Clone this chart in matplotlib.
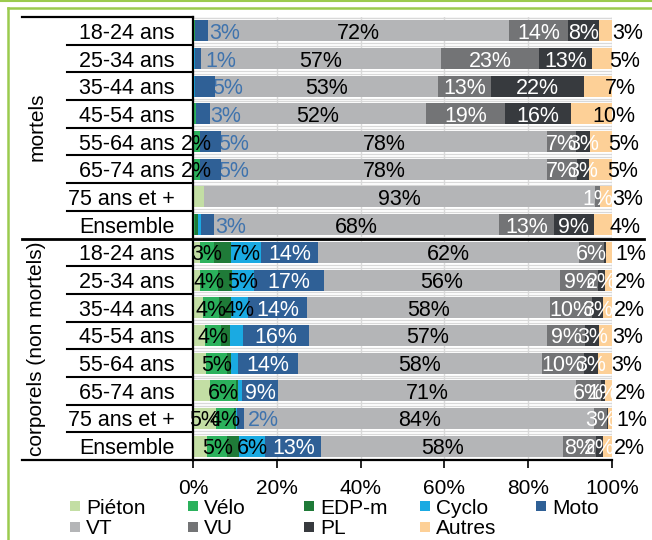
import matplotlib
matplotlib.use("Agg")
import matplotlib.pyplot as plt
from matplotlib.lines import Line2D
from matplotlib.patches import Rectangle
import numpy as np

plt.rcParams['font.family'] = ['Liberation Sans', 'DejaVu Sans']

# Row labels (top to bottom), two groups of eight rows
age_groups = ["18-24 ans", "25-34 ans", "35-44 ans", "45-54 ans",
              "55-64 ans", "65-74 ans", "75 ans et +", "Ensemble"]
groups = ["mortels", "corporels (non mortels)"]
categories = ["Piéton", "Vélo", "EDP-m", "Cyclo", "Moto", "VT", "VU", "PL", "Autres"]

# Shares (%) : eight "mortels" rows followed by eight "corporels" rows
pieton = [0, 0, 0, 0, 0, 0, 2.6, 0,
          1.6, 1.6, 2.4, 2.8, 3.2, 4.0, 5.4, 3.4]
velo = [0.5, 0, 0, 0.6, 1.6, 1.6, 0, 0.5,
        3.4, 4.4, 3.8, 4.0, 5.0, 6.3, 4.4, 4.8]
edpm = [0, 0, 0, 0, 0, 0, 0, 0.8,
        4.0, 3.2, 2.8, 2.0, 0.8, 0.4, 0.4, 2.7]
cyclo = [0, 0.5, 0.4, 0, 0, 0, 0, 0.7,
         7.2, 5.4, 4.1, 3.2, 1.7, 1.0, 0.4, 6.4]
moto = [3.0, 1.4, 4.8, 3.4, 5.2, 5.2, 0, 3.0,
        13.7, 16.6, 14.1, 15.7, 14.3, 8.6, 1.6, 13.3]
vt = [72.0, 57.3, 53.3, 51.6, 77.7, 77.6, 93.3, 68.1,
      62.2, 56.4, 58.1, 56.8, 58.2, 71.1, 83.6, 57.8]
vu = [13.9, 23.4, 12.7, 18.9, 7.0, 7.2, 1.2, 13.1,
      6.0, 9.1, 9.9, 9.1, 10.2, 6.0, 3.0, 7.8]
pl = [7.6, 12.6, 22.0, 15.6, 3.3, 3.0, 0, 9.4,
      0.5, 1.6, 2.6, 3.4, 3.2, 0.9, 0.2, 1.6]
autres = [3.0, 4.8, 6.8, 9.9, 5.2, 5.4, 2.9, 4.4,
          1.4, 1.7, 2.2, 3.0, 3.4, 1.7, 1.0, 2.2]

series = [pieton, velo, edpm, cyclo, moto, vt, vu, pl, autres]
colors = ["#C3DEA4", "#2BB15C", "#1F7A38", "#1AAAE2", "#2F6096",
          "#B4B5B7", "#737476", "#373A3E", "#FDD097"]
xticks = [0, 20, 40, 60, 80, 100]
xticklabels = ["0%", "20%", "40%", "60%", "80%", "100%"]

# smallest value that gets a data label, per category (None: never labelled)
label_min = {"Piéton": 5, "Vélo": 1, "EDP-m": None, "Cyclo": 4, "Moto": 1,
             "VT": 1, "VU": 1, "PL": 0.8, "Autres": 0.5}
label_color = {"Piéton": "black", "Vélo": "black", "EDP-m": "black",
               "Cyclo": "black", "Moto": "white", "VT": "black",
               "VU": "white", "PL": "white", "Autres": "black"}
moto_out_color = "#3F73AD"
frame_green = "#9BCB4E"
grid_gray = "#D9D9D9"

W, H = 652, 540
fig = plt.figure(figsize=(W / 100, H / 100), dpi=100)
ax = fig.add_axes([193 / W, 80 / H, 419 / W, 443 / H])

rows = age_groups * len(groups)
n = len(rows)
y = np.arange(n)
left = np.zeros(n)
FS = 15.5

for name, vals, col in zip(categories, series, colors):
    vals = np.asarray(vals, dtype=float)
    z = 2.6 if name == "Moto" else 2
    ax.barh(y, vals, left=left, height=0.76, color=col, linewidth=0, zorder=z)
    lim = label_min[name]
    if lim is not None:
        for yi, v, l0 in zip(y, vals, left):
            if v < lim:
                continue
            txt = f"{int(v + 0.5)}%"
            centre = l0 + v / 2
            if name == "Autres":
                ax.text(centre + 5.3, yi, txt, ha="center", va="center_baseline",
                        fontsize=FS, color="black", zorder=5, clip_on=False)
            elif name == "Moto" and v < 8:
                ax.text(centre + 5.5, yi, txt, ha="center", va="center_baseline",
                        fontsize=FS, color=moto_out_color, zorder=2.5)
            else:
                ax.text(centre, yi, txt, ha="center", va="center_baseline",
                        fontsize=FS, color=label_color[name], zorder=5,
                        clip_on=False)
    left += vals

ax.set_xlim(0, 100)
ax.set_ylim(n - 0.5, -0.5)

# light grid: vertical lines every 20 %, doubled thin lines between rows
for gx in xticks[1:]:
    ax.axvline(gx, color=grid_gray, lw=1.0, zorder=1)
for b in np.arange(-0.5, n, 1.0):
    ax.axhline(b - 0.05, color=grid_gray, lw=0.9, zorder=1)
    ax.axhline(b + 0.05, color=grid_gray, lw=0.9, zorder=1)

ax.set_xticks(xticks)
ax.set_xticklabels(xticklabels)
ax.tick_params(axis="x", direction="out", length=6, width=1.2, pad=8,
               labelsize=15, colors="black")
ax.set_yticks(y)
ax.set_yticklabels(rows)
ax.tick_params(axis="y", length=0, pad=13, labelsize=15.5)

for s in ("top", "right"):
    ax.spines[s].set_visible(False)
for s in ("left", "bottom"):
    ax.spines[s].set_linewidth(1.6)
    ax.spines[s].set_color("black")

# table-like rules on the label side
ytr = ax.get_yaxis_transform()
x_outer = -171 / 419
x_inner = -126 / 419
x_right = 451 / 419
for b in np.arange(0.5, n - 0.5, 1.0):
    if b == len(age_groups) - 0.5:
        ax.plot([x_outer, x_right], [b, b], transform=ytr, color="black",
                lw=2.0, clip_on=False, zorder=6)
    else:
        ax.plot([x_inner, 0], [b, b], transform=ytr, color="black",
                lw=1.5, clip_on=False, zorder=6)
for b in (-0.5, n - 0.5):
    ax.plot([x_outer, 0], [b, b], transform=ytr, color="black",
            lw=1.6, clip_on=False, zorder=6)

# group titles
fig.text(37 / W, 1 - 127 / H, groups[0], rotation=90, ha="center",
         va="center", fontsize=15)
fig.text(37 / W, 1 - 349 / H, groups[1], rotation=90, ha="center",
         va="center", fontsize=15)

# legend, two rows of five evenly spaced entries
leg_x = [70, 188, 304, 420, 536]
leg_y = [506, 527]
for i, (name, col) in enumerate(zip(categories, colors)):
    r, c = divmod(i, 5)
    x0, yc = leg_x[c], leg_y[r]
    fig.add_artist(Rectangle((x0 / W, 1 - (yc + 5) / H), 10 / W, 10 / H,
                             transform=fig.transFigure, color=col, lw=0))
    fig.text((x0 + 16) / W, 1 - yc / H, name, ha="left",
             va="center_baseline", fontsize=15)

# green page frame
fig.add_artist(Line2D([0, 1], [1 - 1 / H, 1 - 1 / H], color=frame_green,
                      lw=1.5, transform=fig.transFigure))
fig.add_artist(Line2D([8 / W, 1], [1 - 8 / H, 1 - 8 / H], color=frame_green,
                      lw=1.8, transform=fig.transFigure))
fig.add_artist(Line2D([8 / W, 8 / W], [0, 1 - 8 / H], color=frame_green,
                      lw=1.8, transform=fig.transFigure))

fig.savefig("out.png", dpi=100)
